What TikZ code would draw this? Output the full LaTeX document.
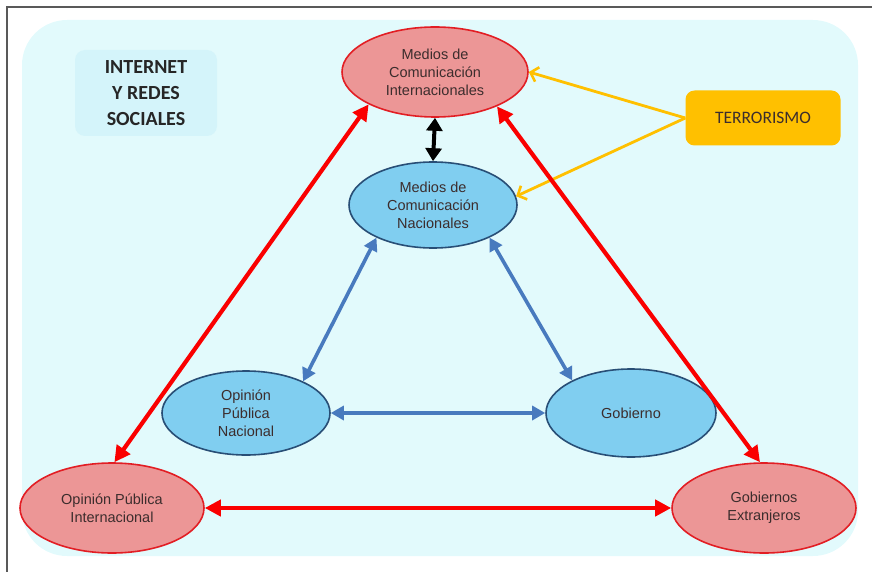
\documentclass[tikz,border=0pt]{standalone}
\usepackage{fontspec}
\setmainfont{Liberation Sans}
\newfontfamily\calfont{Carlito}
\usetikzlibrary{shapes.geometric,arrows.meta}
\definecolor{fondo}{RGB}{226,250,252}
\definecolor{fondocaja}{RGB}{212,244,250}
\definecolor{rojofill}{RGB}{236,150,150}
\definecolor{rojoborde}{RGB}{226,30,36}
\definecolor{rojoflecha}{RGB}{250,0,0}
\definecolor{azulfill}{RGB}{128,206,240}
\definecolor{azulborde}{RGB}{40,78,118}
\definecolor{azulflecha}{RGB}{72,122,190}
\definecolor{amarillo}{RGB}{255,192,0}
\definecolor{textoosc}{RGB}{60,45,45}
\begin{document}
\begin{tikzpicture}[x=1pt, y=-1pt,
  rojo/.style={ellipse, draw=rojoborde, line width=1.6pt, fill=rojofill, text=textoosc, align=center, inner sep=0pt, font=\fontsize{14.5}{18}\selectfont},
  azul/.style={ellipse, draw=azulborde, line width=1.6pt, fill=azulfill, text=textoosc, align=center, inner sep=0pt, font=\fontsize{14.5}{18}\selectfont},
  flecharoja/.style={{Triangle[length=16pt,width=16pt]}-{Triangle[length=16pt,width=16pt]}, line width=4.2pt, rojoflecha},
  flechaazul/.style={{Triangle[length=13pt,width=14pt]}-{Triangle[length=13pt,width=14pt]}, line width=3.6pt, azulflecha},
  flechaamarilla/.style={-{Straight Barb[length=7pt,width=15pt,line width=2.6pt]}, line width=2.8pt, amarillo}]
\useasboundingbox (0,0) rectangle (872,572);
% marco y fondo
\fill[fondo, rounded corners=45pt] (22,20) rectangle (858,556);
\draw[black!65, line width=2pt] (872,7) -- (7,7) -- (7,572);
% nodos
\node[fill=fondocaja, rounded corners=10pt, minimum width=142pt, minimum height=86pt, align=center, text=black!85, font=\calfont\bfseries\fontsize{20}{26}\selectfont] (red) at (146,93) {INTERNET\\Y REDES\\SOCIALES};
\node[fill=amarillo, rounded corners=9pt, minimum width=155pt, minimum height=55pt, text=textoosc, font=\calfont\fontsize{17.5}{20}\selectfont] (terr) at (763,118) {TERRORISMO};
\node[rojo, minimum width=186pt, minimum height=90pt] (mi) at (435,72) {Medios de\\Comunicación\\Internacionales};
\node[azul, minimum width=168pt, minimum height=86pt] (mn) at (433,205) {Medios de\\Comunicación\\Nacionales};
\node[azul, minimum width=168pt, minimum height=84pt] (opn) at (246,413) {Opinión\\Pública\\Nacional};
\node[azul, minimum width=170pt, minimum height=88pt] (gob) at (631,413) {Gobierno};
\node[rojo, minimum width=184pt, minimum height=90pt] (opi) at (112,508) {Opinión Pública\\Internacional};
\node[rojo, minimum width=184pt, minimum height=90pt] (ge) at (764,508) {Gobiernos\\Extranjeros};
% conectores
\draw[{Triangle[length=13pt,width=16pt]}-{Triangle[length=13pt,width=16pt]}, line width=4pt, black] (mi.south) -- (mn.north);
\draw[flechaamarilla] (terr.west) -- (mi.east);
\draw[flechaamarilla] (terr.west) -- (mn.6);
\draw[flecharoja] (mi.206) -- (opi.87);
\draw[flecharoja] (mi.331) -- (ge.95);
\draw[flecharoja] (opi.east) -- (ge.west);
\draw[flechaazul] (mn.210) -- (opn.29);
\draw[flechaazul] (mn.330) -- (gob.151);
\draw[flechaazul] (opn.east) -- (gob.west);
\end{tikzpicture}
\end{document}
